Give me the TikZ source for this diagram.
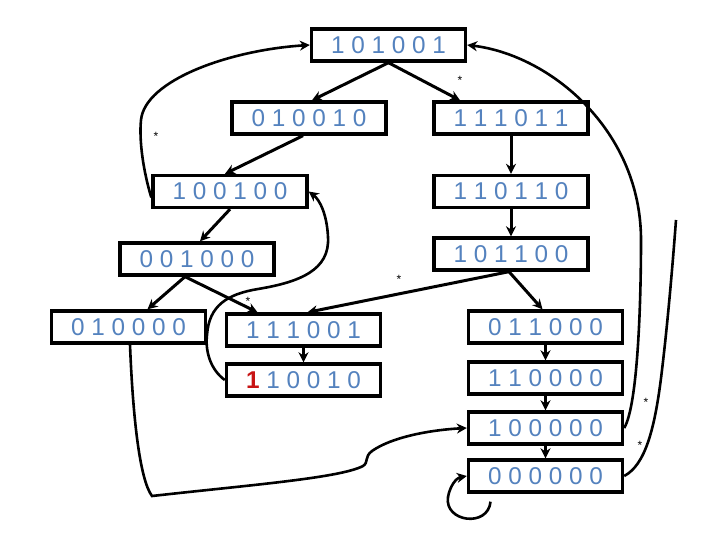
\documentclass[tikz,border=0pt]{standalone}
\usepackage{fontspec}
\setmainfont{Liberation Sans}
\usetikzlibrary{arrows.meta,calc}
\definecolor{digitblue}{RGB}{84,130,190}
\definecolor{digitred}{RGB}{200,20,20}
\begin{document}
\begin{tikzpicture}[x=1pt,y=-1pt,
  statebox/.style={draw,line width=3.4pt,minimum width=154pt,minimum height=32pt,inner sep=0pt,text=digitblue,font=\fontsize{24.3}{26}\selectfont},
  edge/.style={line width=3pt,-{Stealth[length=10pt,width=10pt]}},
  curve/.style={line width=2.6pt},
  curvearrow/.style={line width=2.6pt,-{Stealth[length=10pt,width=10pt]}},
  star/.style={font=\fontsize{12}{14}\selectfont,inner sep=0pt}]
\fill[white] (0,0) rectangle (720,540);
\useasboundingbox (0,0) rectangle (720,540);

\node[statebox] (n101001) at (388.5,45) {1 0 1 0 0 1};
\node[statebox] (n010010) at (309,118) {0 1 0 0 1 0};
\node[statebox] (n111011) at (511,118) {1 1 1 0 1 1};
\node[statebox] (n100100) at (230,191.5) {1 0 0 1 0 0};
\node[statebox] (n110110) at (511,191.5) {1 1 0 1 1 0};
\node[statebox] (n001000) at (197,259) {0 0 1 0 0 0};
\node[statebox] (n101100) at (511,254) {1 0 1 1 0 0};
\node[statebox] (n010000) at (128.5,327) {0 1 0 0 0 0};
\node[statebox] (n111001) at (303.5,330) {1 1 1 0 0 1};
\node[statebox] (n110010) at (303.5,380) {{\color{digitred}\bfseries 1} 1 0 0 1 0};
\node[statebox] (n011000) at (545.5,327) {0 1 1 0 0 0};
\node[statebox] (n110000) at (545.5,378) {1 1 0 0 0 0};
\node[statebox] (n100000) at (545.5,428) {1 0 0 0 0 0};
\node[statebox] (n000000) at (545.5,476) {0 0 0 0 0 0};

% straight arrows
\draw[edge] (n101001.south) -- ($(n010010.north)+(3,0)$);
\draw[edge] (n101001.south) -- ($(n111011.north)+(-51,0)$);
\draw[edge] ($(n010010.south)+(-6,0)$) -- ($(n100100.north)+(-5,0)$);
\draw[edge] (n111011.south) -- (n110110.north);
\draw[edge] (n110110.south) -- (n101100.north);
\draw[edge] (n100100.south) -- ($(n001000.north)+(3,0)$);
\draw[edge] ($(n001000.south)+(-12,0)$) -- ($(n010000.north)+(19,0)$);
\draw[edge] ($(n001000.south)+(-12,0)$) -- ($(n111001.north)+(-46,0)$);
\draw[edge] ($(n101100.south)+(-2,0)$) -- ($(n111001.north)+(4,0)$);
\draw[edge] ($(n101100.south)+(-2,0)$) -- ($(n011000.north)+(-3,0)$);
\draw[edge] (n111001.south) -- (n110010.north);
\draw[edge] (n011000.south) -- (n110000.north);
\draw[edge] (n110000.south) -- (n100000.north);
\draw[edge] (n100000.south) -- (n000000.north);

% self loop on 000000
\draw[curvearrow] ($(n000000.south)+(-55,8)$) .. controls (488,528) and (444,522) .. (448,497)
  .. controls (450,486) and (456,478) .. (n000000.west);

% 010000 -> 100000
\draw[curvearrow] ($(n010000.south)+(1.5,0)$) .. controls (133,420) and (140,480) .. (152,496)
  .. controls (250,485) and (340,478) .. (363,466)
  .. controls (369,462) and (364,457) .. (372,451)
  .. controls (392,437) and (430,430) .. (n100000.west);

% 110010 -> 100100
\draw[curvearrow] (n110010.west) .. controls (211,370) and (205,352) .. (207,335)
  .. controls (209,305) and (228,294) .. (258,289)
  .. controls (300,282) and (330,270) .. (328,237)
  .. controls (327,215) and (320,200) .. (n100100.east);

% 100100 -> 101001
\draw[curvearrow] ($(n100100.west)+(0,6)$) .. controls (143,170) and (139,140) .. (141,120)
  .. controls (145,80) and (230,50) .. (n101001.west);

% 100000 -> 101001
\draw[curvearrow] (n100000.east) .. controls (638,405) and (641,300) .. (641,240)
  .. controls (641,130) and (550,55) .. (n101001.east);

% 000000 -> open end
\coordinate (openend) at (676,220);
\draw[curve] (n000000.east) .. controls (645,465) and (655,430) .. (662,370)
  .. controls (668,320) and (673,260) .. (openend);

% asterisks
\node[star] (s1) at (460,80) {*};
\node[star] (s2) at (156,136) {*};
\node[star] (s3) at (248,301) {*};
\node[star] (s4) at (399,279) {*};
\node[star] (s5) at (646,402) {*};
\node[star] (s6) at (640,445) {*};
\end{tikzpicture}
\end{document}
